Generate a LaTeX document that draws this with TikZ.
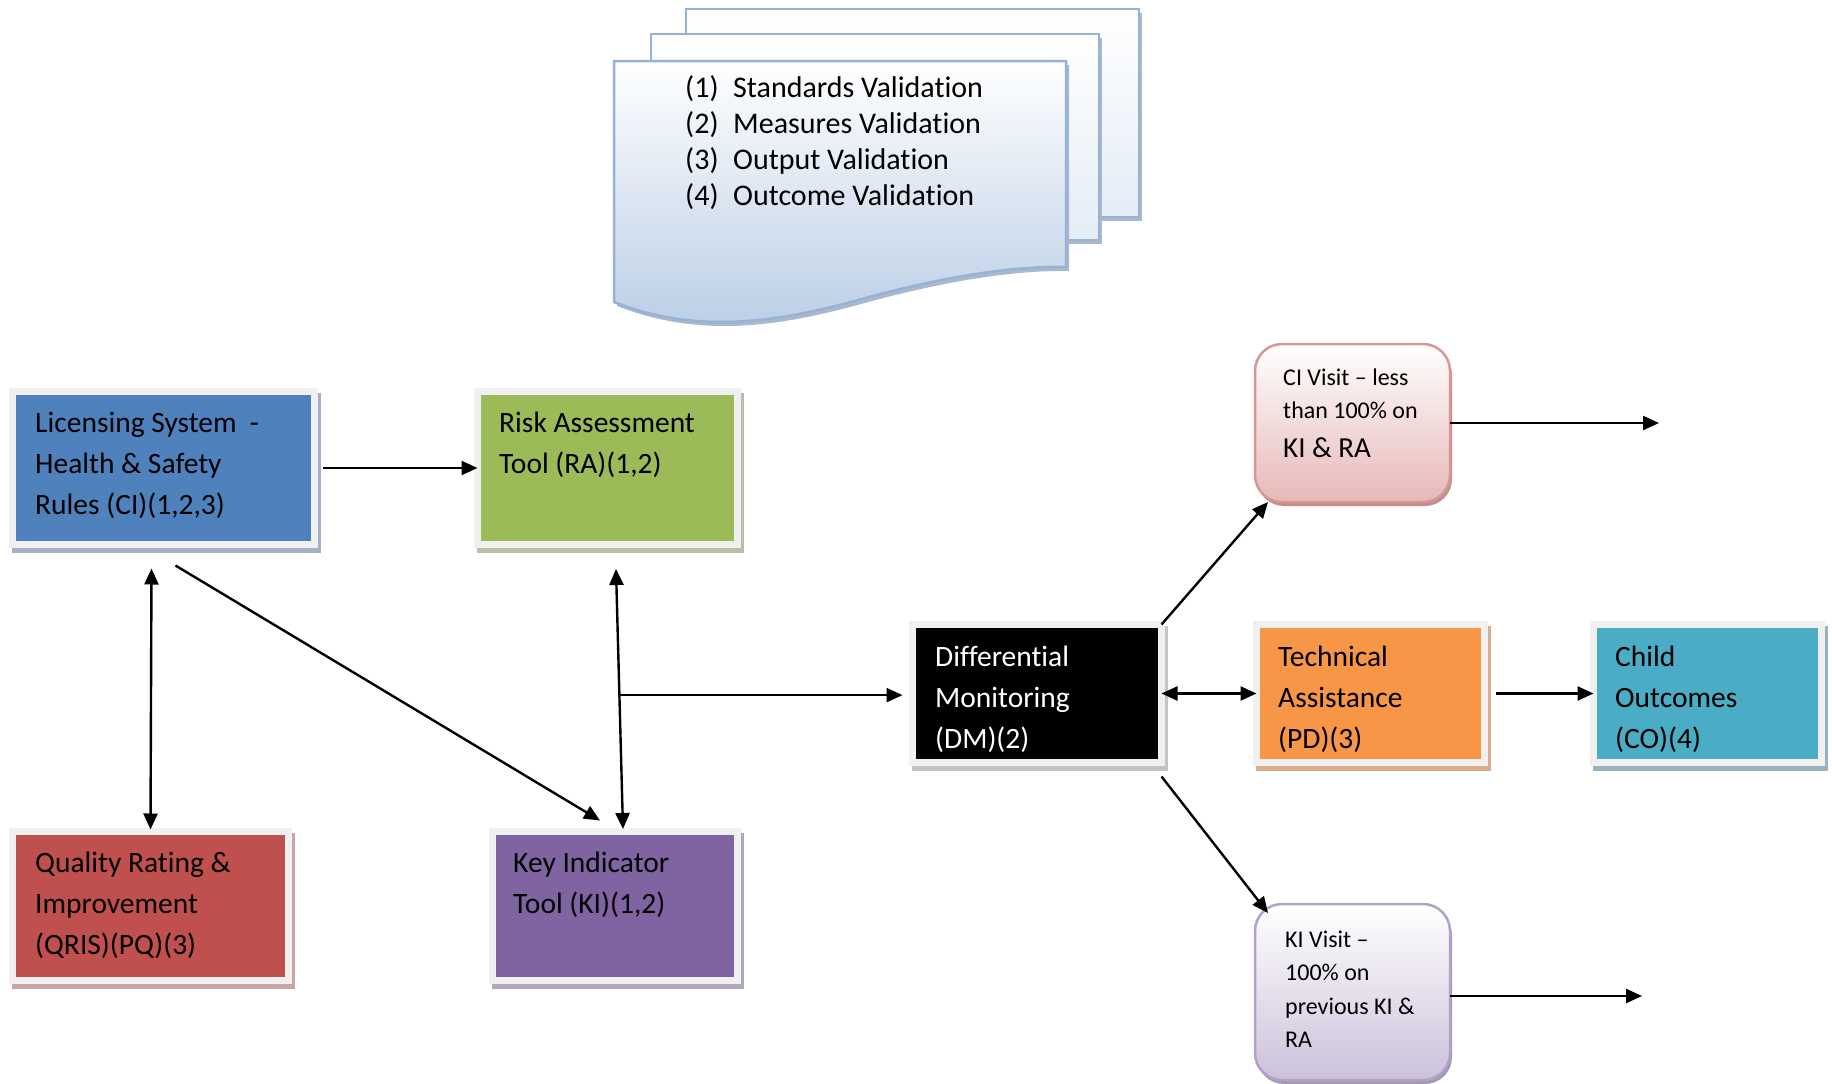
\documentclass[tikz,border=0pt]{standalone}
\usepackage{fontspec}
\setmainfont{Carlito}[Ligatures=NoCommon]
\usetikzlibrary{arrows.meta,shadows,calc}
\definecolor{frameg}{HTML}{F0F0F0}
\definecolor{cblue}{HTML}{4F81BD}
\definecolor{cgreen}{HTML}{9BBB59}
\definecolor{cred}{HTML}{C0504D}
\definecolor{cpurple}{HTML}{8064A2}
\definecolor{corange}{HTML}{F79646}
\definecolor{cteal}{HTML}{4BACC6}
\definecolor{shblue}{HTML}{A3B1C8}
\definecolor{shgreen}{HTML}{B7C0A4}
\definecolor{shred}{HTML}{C8A4A4}
\definecolor{shpurple}{HTML}{AFA6BF}
\definecolor{shgray}{HTML}{C4C4C4}
\definecolor{shorange}{HTML}{D8AE8F}
\definecolor{shteal}{HTML}{97B3BF}
\definecolor{pinkb}{HTML}{E6B9B8}
\definecolor{pinkd}{HTML}{D99694}
\definecolor{lilab}{HTML}{CCC1DA}
\definecolor{lilad}{HTML}{B3A2C7}
\definecolor{docb}{HTML}{B9CDE5}
\definecolor{docl}{HTML}{E4ECF6}
\definecolor{docd}{HTML}{95B3D7}
\definecolor{docsh}{HTML}{A9B8CC}
\newcommand{\mlines}[1]{\begin{tabular}[t]{@{}l@{}}#1\end{tabular}}
\tikzset{
  cbox/.style={draw=frameg, line width=7pt, inner sep=0pt, outer sep=0pt, anchor=north west},
  btxt/.style={anchor=base west, inner sep=0pt, font=\fontsize{29.5}{41}\selectfont},
  vtxt/.style={anchor=base west, inner sep=0pt, font=\fontsize{24}{33.5}\selectfont},
  arr/.style={line width=2.4pt, -{Triangle[length=16pt,width=14pt]}},
  darr/.style={line width=2.4pt, {Triangle[length=16pt,width=14pt]}-{Triangle[length=16pt,width=14pt]}},
  vbox/.style={rounded corners=27pt, line width=2.5pt, inner sep=0pt, outer sep=0pt, anchor=north west},
  pg/.style={draw=docd, line width=2.5pt},
}
\begin{document}
\begin{tikzpicture}[x=1pt,y=-1pt]
\useasboundingbox[fill=white] (0,0) rectangle (1832,1084);

% document stack
\fill[docsh] (689,13) rectangle (1142,221);
\shade[pg, top color=white, bottom color=docl] (686,9) rectangle (1139,217);
\fill[docsh] (654,38) rectangle (1102,244);
\shade[pg, top color=white, bottom color=docl] (651,34) rectangle (1099,240);
\fill[docsh] (617,65) -- (1069,65) -- (1069,271)
  .. controls (1011,270) and (941,282) .. (861,304)
  .. controls (781,326) and (701,339) .. (617,306) -- cycle;
\shade[pg, top color=white, bottom color=docb] (614,61) -- (1066,61) -- (1066,267)
  .. controls (1008,266) and (938,278) .. (858,300)
  .. controls (778,322) and (698,335) .. (614,302) -- cycle;
\node[anchor=base west, inner sep=0pt, font=\fontsize{30}{36}\selectfont] (docT) at (685,97)
  {\mlines{\makebox[48pt][l]{(1)}Standards Validation\\
           \makebox[48pt][l]{(2)}Measures Validation\\
           \makebox[48pt][l]{(3)}Output Validation\\
           \makebox[48pt][l]{(4)}Outcome Validation}};

% boxes
\node[cbox, fill=cblue, minimum width=302pt, minimum height=153pt,
  general shadow={fill=shblue, draw=shblue, line width=7pt, shadow xshift=3pt, shadow yshift=-5pt}] (lic) at (12.5,391.5) {};
\node[cbox, fill=cgreen, minimum width=260pt, minimum height=153pt,
  general shadow={fill=shgreen, draw=shgreen, line width=7pt, shadow xshift=3pt, shadow yshift=-5pt}] (ra) at (477.5,391.5) {};
\node[cbox, fill=cred, minimum width=276pt, minimum height=149pt,
  general shadow={fill=shred, draw=shred, line width=7pt, shadow xshift=3pt, shadow yshift=-5pt}] (qris) at (12.5,831.5) {};
\node[cbox, fill=cpurple, minimum width=245pt, minimum height=149pt,
  general shadow={fill=shpurple, draw=shpurple, line width=7pt, shadow xshift=3pt, shadow yshift=-5pt}] (ki) at (492.5,831.5) {};
\node[cbox, fill=black, minimum width=249pt, minimum height=138pt,
  general shadow={fill=shgray, draw=shgray, line width=7pt, shadow xshift=3pt, shadow yshift=-5pt}] (dm) at (912.5,624.5) {};
\node[cbox, fill=corange, minimum width=228pt, minimum height=138pt,
  general shadow={fill=shorange, draw=shorange, line width=7pt, shadow xshift=3pt, shadow yshift=-5pt}] (ta) at (1256.5,624.5) {};
\node[cbox, fill=cteal, minimum width=228pt, minimum height=138pt,
  general shadow={fill=shteal, draw=shteal, line width=7pt, shadow xshift=3pt, shadow yshift=-5pt}] (co) at (1593.5,624.5) {};

\node[vbox, draw=pinkd, top color=white, bottom color=pinkb, minimum width=195pt, minimum height=158pt,
  general shadow={fill=pinkd!70!gray, shadow xshift=2pt, shadow yshift=-4pt}] (civ) at (1255,344) {};
\node[vbox, draw=lilad, top color=white, bottom color=lilab, minimum width=195pt, minimum height=176pt,
  general shadow={fill=lilad!70!gray, shadow xshift=2pt, shadow yshift=-4pt}] (kiv) at (1255,904) {};

% texts
\node[btxt] (licT) at (35,432) {\mlines{Licensing System\ \ -\\Health \& Safety\\Rules (CI)(1,2,3)}};
\node[btxt] (raT) at (499,432) {\mlines{Risk Assessment\\Tool (RA)(1,2)}};
\node[btxt] (qrisT) at (35,872) {\mlines{Quality Rating \&\\Improvement\\(QRIS)(PQ)(3)}};
\node[btxt] (kiT) at (513,872) {\mlines{Key Indicator\\Tool (KI)(1,2)}};
\node[btxt, text=white] (dmT) at (935,666) {\mlines{Differential\\Monitoring\\(DM)(2)}};
\node[btxt] (taT) at (1278,666) {\mlines{Technical\\Assistance\\(PD)(3)}};
\node[btxt] (coT) at (1615,666) {\mlines{Child\\Outcomes\\(CO)(4)}};
\node[vtxt] (civT) at (1283,385) {\mlines{CI Visit – less\\than 100\% on\\[5pt]{\fontsize{29}{34}\selectfont KI \& RA}}};
\node[vtxt] (kivT) at (1285,947) {\mlines{KI Visit –\\100\% on\\previous KI \&\\RA}};

% connectors
\draw[arr, shorten <=8pt] (lic.east) -- (ra.west);
\draw[darr] ([xshift=-12pt,yshift=-24pt]lic.south) -- ([yshift=2pt]qris.north);
\draw[arr] ([xshift=12pt,yshift=-21pt]lic.south) -- ([xshift=-15pt,yshift=11pt]ki.north);
\coordinate (rk1) at ([xshift=8.5pt,yshift=-24.5pt]ra.south);
\coordinate (rk2) at ([xshift=8pt,yshift=2.5pt]ki.north);
\draw[darr] (rk1) -- (rk2);
\coordinate (j) at ($(rk1)!0.485!(rk2)$);
\draw[arr, shorten >=10pt] (j) -- (j -| dm.west);
\draw[darr] (dm.east) -- (ta.west);
\draw[arr, shorten <=11.5pt] (ta.east) -- (co.west);
\draw[arr] (dm.north east) -- ([xshift=13pt]civ.south west);
\draw[arr] ([yshift=-14pt]dm.south east) -- ([xshift=13pt,yshift=-9pt]kiv.north west);
\coordinate (civend) at (1659,423);
\coordinate (kivend) at (1642,996);
\draw[arr] (civ.east) -- (civend);
\draw[arr] ([yshift=-4pt]kiv.east) -- (kivend);
\end{tikzpicture}
\end{document}
